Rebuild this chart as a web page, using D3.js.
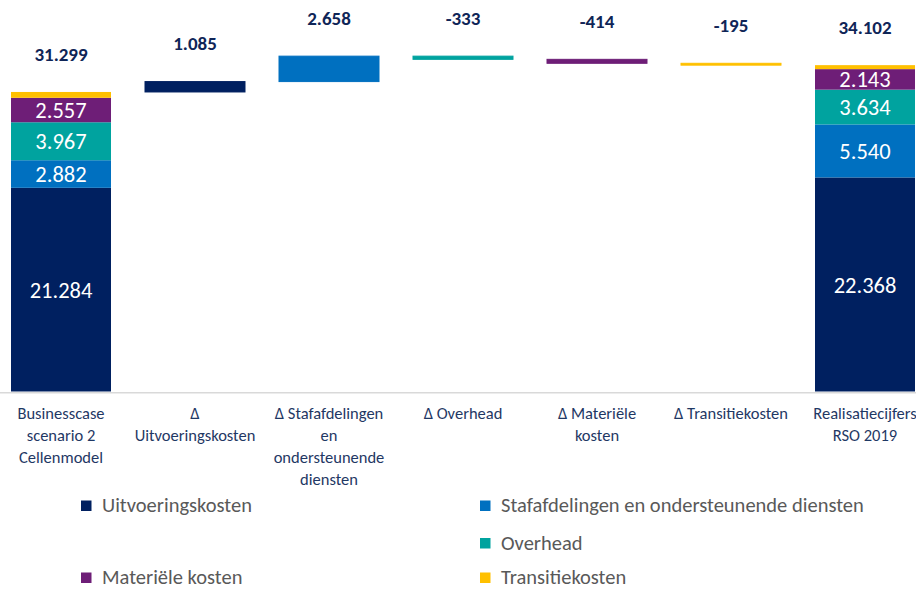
<!DOCTYPE html>
<html>
<head>
<meta charset="utf-8">
<script src="https://cdn.jsdelivr.net/npm/d3@7"></script>
<style>
  body { margin: 0; background: #fff; }
  #chart { width: 916px; height: 590px; overflow: hidden; }
  text { font-family: Carlito, "Liberation Sans", Arial, sans-serif; }
  .axis path { stroke: #d9d9d9; stroke-width: 1.5px; }
  .axis text { fill: #1f3864; font-size: 16.5px; }
  .valueLabel { fill: #0f2557; font-size: 19px; font-weight: bold; }
  .segLabel { fill: #fff; font-size: 22.5px; }
  .legendText { fill: #595959; font-size: 20.5px; }
</style>
</head>
<body>
<div id="chart"></div>
<script>

// categories (x axis, pre-split into lines like the original)
var categories = [
  ["Businesscase", "scenario 2", "Cellenmodel"],
  ["Δ", "Uitvoeringskosten"],
  ["Δ Stafafdelingen", "en", "ondersteunende", "diensten"],
  ["Δ Overhead"],
  ["Δ Materiële", "kosten"],
  ["Δ Transitiekosten"],
  ["Realisatiecijfers", "RSO 2019"]
];

var seriesNames = ["Uitvoeringskosten", "Stafafdelingen en ondersteunende diensten",
  "Overhead", "Materiële kosten", "Transitiekosten"];

// stacked totals (first and last column)
var startValues = [21284, 2882, 3967, 2557, 609];
var endValues = [22368, 5540, 3634, 2143, 417];

// changes per series (middle columns)
var deltaValues = [1085, 2658, -333, -414, -195];

var colors = ["#002060", "#0070c0", "#00a39f", "#6e1e77", "#ffc000"];

var nl = d3.formatLocale({decimal: ",", thousands: ".", grouping: [3], currency: ["€", ""], minus: "-"});
var fmt = nl.format(",.0f");


WaterfallChart = function(_parentElement){
	this.parentElement = _parentElement;
	this.initVis();
}

WaterfallChart.prototype.initVis = function(){
	var vis = this;

	vis.width = 916;
	vis.height = 590;
	vis.baseline = 391.5;

	vis.svg = d3.select("#" + vis.parentElement).append("svg")
		.attr("width", vis.width)
		.attr("height", vis.height);

	// scales
	vis.x = d3.scaleBand()
		.domain(d3.range(categories.length))
		.range([-6, 932])
		.paddingInner(34/134)
		.paddingOuter(17/134);

	vis.y = d3.scaleLinear()
		.domain([0, 40000])
		.range([vis.baseline, 8.7]);

	vis.wrangleData();
}

WaterfallChart.prototype.wrangleData = function(){
	var vis = this;

	vis.rects = [];
	vis.labels = [];

	// first column - stacked
	var cum = 0;
	startValues.forEach(function(v, i){
		vis.rects.push({col: 0, s: i, y0: cum, y1: cum + v, val: v, inner: true});
		cum += v;
	});
	vis.labels.push({col: 0, top: cum, text: fmt(cum)});

	// deltas float on top of running total
	deltaValues.forEach(function(v, i){
		var before = cum;
		cum += v;
		vis.rects.push({col: i + 1, s: i, y0: Math.min(before, cum), y1: Math.max(before, cum), val: v, delta: true});
		vis.labels.push({col: i + 1, top: Math.max(before, cum), text: fmt(v)});
	});

	// last column - stacked
	var cum2 = 0;
	endValues.forEach(function(v, i){
		vis.rects.push({col: categories.length - 1, s: i, y0: cum2, y1: cum2 + v, val: v, inner: true});
		cum2 += v;
	});
	vis.labels.push({col: categories.length - 1, top: cum2, text: fmt(cum2)});

	vis.updateVis();
}

WaterfallChart.prototype.updateVis = function(){
	var vis = this;

	// axis
	var xAxis = d3.axisBottom(vis.x).tickSize(0).tickSizeOuter(0).tickFormat("");
	var ax = vis.svg.append("g")
		.attr("class", "axis")
		.attr("transform", "translate(0," + (vis.baseline + 0.75) + ")")
		.call(xAxis);

	ax.selectAll(".tick text")
		.attr("y", 0)
		.attr("dy", null)
		.each(function(d){
			var t = d3.select(this);
			categories[d].forEach(function(line, j){
				t.append("tspan")
					.attr("x", 0)
					.attr("y", 26.5 + j * 22)
					.text(line);
			});
		});

	// bars
	vis.svg.selectAll(".bar")
		.data(vis.rects)
		.enter().append("rect")
		.attr("class", "bar")
		.attr("x", function(d){ return vis.x(d.col); })
		.attr("width", vis.x.bandwidth())
		.attr("y", function(d){ return vis.y(d.y1); })
		.attr("height", function(d){ return vis.y(d.y0) - vis.y(d.y1); })
		.attr("fill", function(d){ return colors[d.s]; })
		.attr("stroke", function(d){ return d.delta ? colors[d.s] : "none"; })
		.attr("stroke-width", 1);

	// values inside stacked bars
	vis.svg.selectAll(".segLabel")
		.data(vis.rects.filter(function(d){ return d.inner && (vis.y(d.y0) - vis.y(d.y1)) > 15; }))
		.enter().append("text")
		.attr("class", "segLabel")
		.attr("x", function(d){ return vis.x(d.col) + vis.x.bandwidth()/2; })
		.attr("y", function(d){ return (vis.y(d.y0) + vis.y(d.y1))/2; })
		.attr("dy", "0.36em")
		.attr("text-anchor", "middle")
		.text(function(d){ return fmt(d.val); });

	// values above columns
	vis.svg.selectAll(".valueLabel")
		.data(vis.labels)
		.enter().append("text")
		.attr("class", "valueLabel")
		.attr("x", function(d){ return vis.x(d.col) + vis.x.bandwidth()/2; })
		.attr("y", function(d){ return vis.y(d.top) - 38; })
		.attr("dy", "0.36em")
		.attr("text-anchor", "middle")
		.text(function(d){ return d.text; });

	// legend (two columns, like the source)
	var legendPos = [[81, 505.5], [480, 505.5], [480, 543], [81, 577.5], [480, 577.5]];
	var lg = vis.svg.selectAll(".legendItem")
		.data(seriesNames)
		.enter().append("g")
		.attr("class", "legendItem")
		.attr("transform", function(d, i){ return "translate(" + legendPos[i][0] + "," + legendPos[i][1] + ")"; });

	lg.append("rect")
		.attr("x", 0)
		.attr("y", -5)
		.attr("width", 10.5)
		.attr("height", 10.5)
		.attr("fill", function(d, i){ return colors[i]; });

	lg.append("text")
		.attr("class", "legendText")
		.attr("x", 21)
		.attr("y", 0)
		.attr("dy", "0.34em")
		.text(function(d){ return d; });
}

var chart = new WaterfallChart("chart");

</script>
</body>
</html>
